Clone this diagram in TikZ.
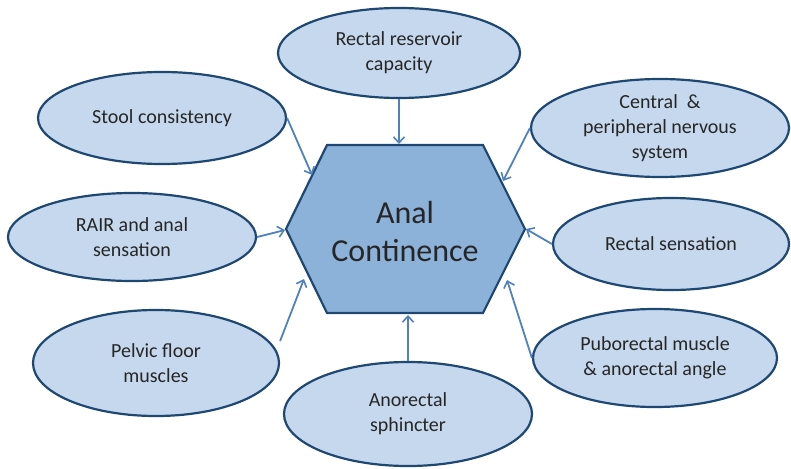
\documentclass[tikz,border=0pt]{standalone}
\usepackage{fontspec}
\setmainfont{Carlito}
\usetikzlibrary{shapes.geometric,arrows.meta}

\definecolor{ovalfill}{RGB}{197,216,237}
\definecolor{ovalline}{RGB}{30,72,114}
\definecolor{hexfill}{RGB}{141,178,217}
\definecolor{arrowblue}{RGB}{79,129,189}
\definecolor{textgrey}{RGB}{38,38,38}

\begin{document}
\begin{tikzpicture}
            [x=1pt,y=-1pt,
             factor/.style={ellipse,draw=ovalline,fill=ovalfill,line width=2.2pt,
                            inner sep=0pt,align=center,text=textgrey,
                            font=\fontsize{20}{25}\selectfont},
             feed/.style={draw=arrowblue,line width=1.8pt,
                          -{Straight Barb[length=6pt,width=11pt,line width=1.6pt]}}]
            \useasboundingbox (0,0) rectangle (791,468);

            % hexagon corners
            \coordinate (hexTL) at (327,145);
            \coordinate (hexTR) at (483,145);
            \coordinate (hexR)  at (525,229);
            \coordinate (hexBR) at (483,313);
            \coordinate (hexBL) at (327,313);
            \coordinate (hexL)  at (286,229);
            \draw[draw=ovalline,fill=hexfill,line width=2.2pt,line join=miter]
                (hexTL) -- (hexTR) -- (hexR) -- (hexBR) -- (hexBL) -- (hexL) -- cycle;
            \node[align=center,text=textgrey,font=\fontsize{32}{38}\selectfont]
                (continence) at (405,232) {Anal\\Continence};

            % where the arrows hit the hexagon
            \coordinate (inTop)   at (399,144);
            \coordinate (inStool) at (312,175);
            \coordinate (inNerve) at (503,181);
            \coordinate (inRair)  at (285,230);
            \coordinate (inSens)  at (526,229);
            \coordinate (inPelv)  at (304,279);
            \coordinate (inPubo)  at (507,280);
            \coordinate (inBot)   at (408,315);

            \node[factor,minimum width=242pt,minimum height=90pt]  (reservoir)  at (399,53)  {Rectal reservoir\\capacity};
            \node[factor,minimum width=248pt,minimum height=92pt]  (stool)      at (162,118) {Stool consistency};
            \node[factor,minimum width=258pt,minimum height=98pt]  (nervous)    at (660,128) {Central~ \&\\peripheral nervous\\system};
            \node[factor,minimum width=248pt,minimum height=88pt]  (rair)       at (132,237) {RAIR and anal\\sensation};
            \node[factor,minimum width=236pt,minimum height=92pt]  (sensation)  at (671,244) {Rectal sensation};
            \node[factor,minimum width=246pt,minimum height=106pt] (pelvic)     at (156,363) {Pelvic floor\\muscles};
            \node[factor,minimum width=244pt,minimum height=98pt]  (puborectal) at (655,358) {Puborectal muscle\\\& anorectal angle};
            \node[factor,minimum width=248pt,minimum height=104pt] (sphincter)  at (408,414) {Anorectal\\sphincter};

            \draw[feed] (reservoir.south) -- (inTop);
            \draw[feed] (stool.east) -- (inStool);
            \draw[feed] (nervous.west) -- (inNerve);
            \draw[feed] (rair.east) -- (inRair);
            \draw[feed] (sensation.west) -- (inSens);
            \draw[feed] ([yshift=22pt]pelvic.east) -- (inPelv);
            \draw[feed] (puborectal.west) -- (inPubo);
            \draw[feed] (sphincter.north) -- (inBot);
        \end{tikzpicture}
\end{document}
